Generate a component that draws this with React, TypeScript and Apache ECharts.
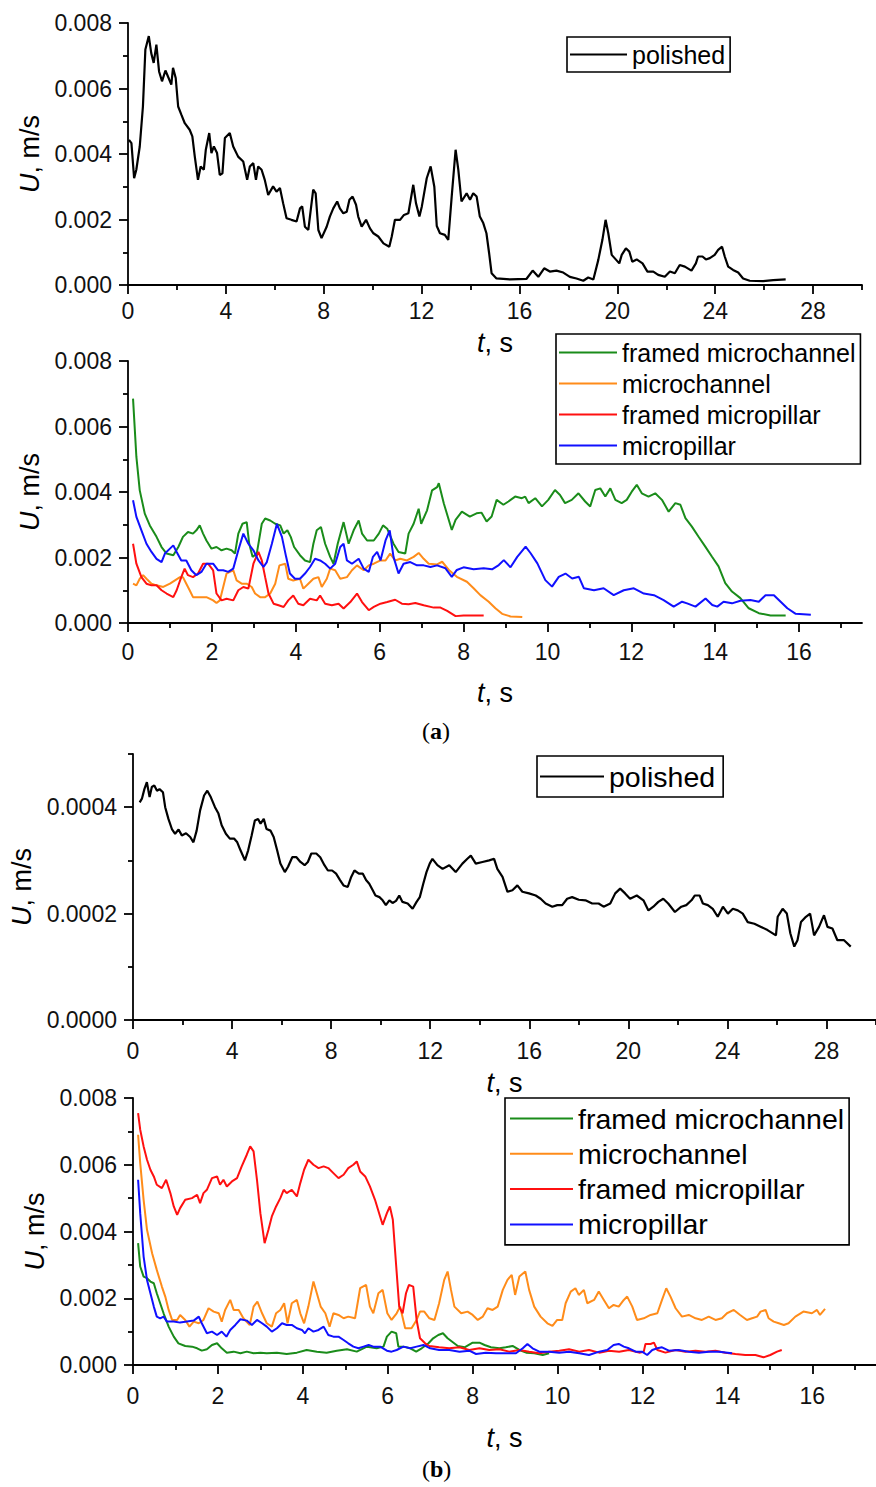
import React, { useEffect, useRef } from 'react';
import * as echarts from 'echarts';

const FONT = "'Liberation Sans', Arial, Helvetica, sans-serif";
const SERIF = "'Liberation Serif', 'Times New Roman', serif";

// ---------- tick values ----------
const xTicksWide = [0, 4, 8, 12, 16, 20, 24, 28];
const xMinorWide = [2, 6, 10, 14, 18, 22, 26, 30];
const xTicksNarrow = [0, 2, 4, 6, 8, 10, 12, 14, 16];
const xMinorNarrow = [1, 3, 5, 7, 9, 11, 13, 15, 17];
const yTicksBig = [0, 0.002, 0.004, 0.006, 0.008];
const yMinorBig = [0.001, 0.003, 0.005, 0.007];
const yTicksSmall = [0, 0.0002, 0.0004];
const yMinorSmall = [0.0001, 0.0003, 0.0005];

// ---------- data: [t (s), U (10^-3 m/s)] ----------
// (a) top: polished
const aPolished = [[0.04,4.43],[0.14,4.33],[0.25,3.26],[0.34,3.52],[0.48,4.23],[0.61,5.45],[0.71,7.19],[0.85,7.6],[0.95,7.08],[1.05,6.78],[1.16,7.34],[1.27,6.52],[1.39,6.22],[1.53,6.55],[1.66,6.32],[1.77,6.12],[1.84,6.63],[1.95,6.32],[2.05,5.45],[2.18,5.2],[2.32,4.94],[2.52,4.74],[2.63,4.54],[2.73,3.92],[2.86,3.21],[2.97,3.62],[3.1,3.52],[3.18,4.13],[3.32,4.64],[3.41,4.03],[3.51,4.23],[3.64,4.03],[3.75,3.36],[3.86,3.41],[3.96,4.49],[4.16,4.64],[4.3,4.23],[4.5,3.92],[4.71,3.77],[4.87,3.21],[4.98,3.62],[5.12,3.72],[5.23,3.21],[5.32,3.62],[5.46,3.52],[5.59,3.21],[5.73,2.75],[5.93,3.01],[6.07,2.85],[6.21,2.96],[6.34,2.5],[6.48,2.04],[6.68,1.99],[6.89,1.94],[7.03,2.34],[7.12,2.4],[7.23,1.78],[7.37,1.68],[7.57,2.91],[7.67,2.8],[7.78,1.68],[7.91,1.43],[8.12,1.78],[8.25,2.09],[8.39,2.34],[8.55,2.55],[8.66,2.34],[8.8,2.19],[8.94,2.24],[9.05,2.6],[9.18,2.7],[9.32,2.45],[9.41,2.09],[9.55,1.78],[9.73,1.99],[9.89,1.73],[10.03,1.58],[10.23,1.48],[10.44,1.27],[10.68,1.17],[10.78,1.48],[10.91,1.99],[11.12,1.99],[11.28,2.14],[11.46,2.19],[11.66,3.06],[11.77,2.5],[11.91,2.09],[12.01,2.4],[12.21,3.26],[12.37,3.62],[12.52,3.0],[12.62,1.8],[12.75,1.58],[12.95,1.53],[13.09,1.38],[13.23,2.7],[13.39,4.13],[13.5,3.52],[13.63,2.55],[13.84,2.8],[13.98,2.6],[14.11,2.8],[14.25,2.7],[14.38,2.09],[14.52,1.89],[14.65,1.58],[14.76,0.97],[14.86,0.36],[15.06,0.2],[15.61,0.17],[16.29,0.19],[16.54,0.44],[16.77,0.25],[17.01,0.51],[17.24,0.41],[17.51,0.44],[17.79,0.38],[18.06,0.25],[18.33,0.2],[18.61,0.13],[18.81,0.23],[19.02,0.17],[19.22,0.76],[19.39,1.38],[19.52,1.99],[19.63,1.58],[19.77,0.92],[20.08,0.66],[20.18,0.92],[20.35,1.12],[20.49,1.02],[20.61,0.71],[20.79,0.78],[21.03,0.66],[21.23,0.41],[21.47,0.41],[21.67,0.31],[21.94,0.25],[22.15,0.41],[22.35,0.36],[22.55,0.61],[22.76,0.56],[23.03,0.44],[23.21,0.66],[23.3,0.87],[23.48,0.87],[23.62,0.78],[23.78,0.82],[23.98,0.92],[24.12,1.07],[24.28,1.17],[24.39,0.87],[24.53,0.56],[24.73,0.46],[24.94,0.38],[25.14,0.2],[25.41,0.13],[25.96,0.12],[26.37,0.15],[26.88,0.17]];

// (a) bottom
const aFramedChannel = [[0.12,6.85],[0.2,5.07],[0.28,4.05],[0.4,3.34],[0.52,2.98],[0.68,2.63],[0.8,2.32],[0.92,2.12],[1.08,2.07],[1.2,2.32],[1.31,2.63],[1.43,2.78],[1.55,2.73],[1.63,2.83],[1.71,2.98],[1.79,2.73],[1.87,2.52],[1.99,2.27],[2.11,2.32],[2.23,2.22],[2.35,2.27],[2.47,2.22],[2.55,2.12],[2.63,2.73],[2.73,3.03],[2.83,3.08],[2.89,2.42],[2.97,2.02],[3.07,2.12],[3.19,3.03],[3.27,3.19],[3.39,3.13],[3.51,3.03],[3.63,2.98],[3.71,2.73],[3.8,2.83],[3.88,2.63],[3.96,2.32],[4.1,2.07],[4.22,1.91],[4.34,1.86],[4.42,2.42],[4.5,2.83],[4.6,2.93],[4.7,2.42],[4.82,2.02],[4.9,1.81],[5.0,2.42],[5.14,3.08],[5.26,2.42],[5.38,2.83],[5.5,3.13],[5.58,2.73],[5.7,2.52],[5.86,2.52],[5.98,2.73],[6.08,2.98],[6.18,2.88],[6.33,2.42],[6.45,2.17],[6.61,2.12],[6.69,2.73],[6.81,3.03],[6.93,3.49],[6.99,3.03],[7.13,3.44],[7.25,4.05],[7.37,4.15],[7.41,4.27],[7.53,3.65],[7.72,2.84],[7.81,3.15],[7.96,3.4],[8.15,3.25],[8.31,3.35],[8.43,3.37],[8.55,3.1],[8.67,3.25],[8.79,3.76],[8.95,3.61],[9.07,3.71],[9.23,3.86],[9.39,3.81],[9.47,3.86],[9.55,3.66],[9.71,3.81],[9.87,3.56],[10.02,3.76],[10.18,4.06],[10.3,3.91],[10.42,3.66],[10.58,3.76],[10.74,3.96],[10.9,3.71],[11.02,3.56],[11.14,4.06],[11.26,4.11],[11.38,3.86],[11.5,4.11],[11.62,3.76],[11.77,3.66],[11.89,3.76],[12.01,4.01],[12.13,4.22],[12.25,3.96],[12.41,3.86],[12.57,3.96],[12.73,3.76],[12.89,3.4],[13.05,3.66],[13.17,3.61],[13.29,3.2],[13.44,2.95],[13.6,2.64],[13.76,2.34],[13.92,2.03],[14.08,1.73],[14.24,1.22],[14.4,0.96],[14.6,0.76],[14.8,0.45],[15.04,0.3],[15.32,0.23],[15.68,0.23]];
const aChannel = [[0.12,1.2],[0.2,1.15],[0.28,1.35],[0.36,1.46],[0.44,1.35],[0.56,1.2],[0.68,1.15],[0.84,1.1],[1.0,1.2],[1.12,1.3],[1.24,1.4],[1.31,1.4],[1.39,1.2],[1.47,1.0],[1.55,0.79],[1.71,0.79],[1.87,0.79],[2.03,0.69],[2.11,0.61],[2.19,0.69],[2.27,1.1],[2.35,1.51],[2.43,1.56],[2.51,1.61],[2.59,1.3],[2.71,1.2],[2.83,1.2],[2.95,1.1],[3.03,0.9],[3.15,0.79],[3.27,0.79],[3.39,0.9],[3.51,1.2],[3.61,1.76],[3.75,1.81],[3.82,1.35],[3.94,1.3],[4.1,1.35],[4.18,1.05],[4.3,1.2],[4.42,1.35],[4.54,1.4],[4.62,1.1],[4.74,1.35],[4.82,1.66],[4.94,1.61],[5.06,1.35],[5.22,1.4],[5.34,1.61],[5.46,1.76],[5.62,1.61],[5.74,1.76],[5.86,1.81],[6.02,1.91],[6.14,1.91],[6.25,2.12],[6.37,1.91],[6.49,1.96],[6.65,1.91],[6.81,2.02],[6.93,2.14],[7.05,1.96],[7.17,1.81],[7.37,1.79],[7.49,1.87],[7.65,1.62],[7.84,1.41],[8.08,1.26],[8.24,1.06],[8.4,0.85],[8.6,0.65],[8.76,0.45],[8.92,0.28],[9.12,0.2],[9.4,0.18]];
const aFramedPillar = [[0.12,2.42],[0.2,1.81],[0.32,1.4],[0.44,1.2],[0.56,1.15],[0.68,1.15],[0.8,1.0],[0.92,0.9],[1.08,0.79],[1.16,1.0],[1.27,1.4],[1.35,1.66],[1.43,1.46],[1.55,1.4],[1.67,1.51],[1.79,1.81],[1.91,1.81],[2.03,1.61],[2.11,0.9],[2.23,0.69],[2.35,0.74],[2.51,0.69],[2.63,1.0],[2.75,1.1],[2.87,1.05],[2.99,1.81],[3.11,2.17],[3.19,1.91],[3.27,1.4],[3.35,0.9],[3.47,0.59],[3.59,0.54],[3.71,0.49],[3.82,0.69],[3.94,0.84],[4.06,0.59],[4.18,0.54],[4.34,0.74],[4.5,0.69],[4.58,0.84],[4.7,0.59],[4.86,0.54],[5.02,0.59],[5.14,0.44],[5.3,0.64],[5.46,0.9],[5.58,0.64],[5.74,0.39],[5.86,0.49],[6.02,0.59],[6.18,0.64],[6.37,0.71],[6.53,0.59],[6.69,0.57],[6.85,0.61],[7.05,0.54],[7.29,0.47],[7.45,0.47],[7.61,0.37],[7.81,0.21],[8.0,0.23],[8.2,0.23],[8.48,0.23]];
const aPillar = [[0.12,3.75],[0.2,3.24],[0.32,2.83],[0.44,2.42],[0.56,2.17],[0.68,1.96],[0.8,1.86],[0.88,2.12],[1.0,2.27],[1.08,2.37],[1.16,2.17],[1.27,1.91],[1.39,1.91],[1.51,1.61],[1.63,1.46],[1.75,1.56],[1.87,1.81],[2.03,1.81],[2.15,1.61],[2.27,1.61],[2.39,1.56],[2.51,1.66],[2.63,2.22],[2.75,2.73],[2.87,2.42],[2.99,2.22],[3.11,1.91],[3.23,1.71],[3.31,1.86],[3.43,2.42],[3.55,3.03],[3.67,2.63],[3.77,2.02],[3.86,1.51],[3.98,1.35],[4.1,1.35],[4.22,1.51],[4.34,1.71],[4.46,1.96],[4.58,1.91],[4.7,1.81],[4.82,1.66],[4.94,1.81],[5.06,2.32],[5.14,2.42],[5.22,1.91],[5.34,1.81],[5.5,1.96],[5.62,1.66],[5.74,1.56],[5.84,2.02],[5.94,2.17],[6.02,1.91],[6.14,2.52],[6.24,2.83],[6.33,2.02],[6.45,1.51],[6.57,1.81],[6.73,1.86],[6.89,1.76],[7.05,1.76],[7.21,1.71],[7.37,1.76],[7.57,1.67],[7.72,1.41],[7.84,1.62],[8.0,1.7],[8.24,1.64],[8.48,1.67],[8.68,1.64],[8.84,1.77],[8.96,1.92],[9.12,1.7],[9.28,2.02],[9.48,2.33],[9.6,2.13],[9.76,1.82],[9.95,1.31],[10.11,1.11],[10.27,1.41],[10.43,1.51],[10.59,1.36],[10.75,1.41],[10.87,1.06],[11.11,1.0],[11.34,1.06],[11.58,0.85],[11.82,1.0],[12.06,1.06],[12.3,0.9],[12.54,0.85],[12.77,0.7],[13.01,0.5],[13.21,0.65],[13.33,0.6],[13.53,0.5],[13.77,0.75],[13.93,0.55],[14.05,0.5],[14.2,0.65],[14.4,0.6],[14.6,0.68],[14.84,0.7],[15.04,0.65],[15.2,0.85],[15.4,0.85],[15.56,0.65],[15.72,0.45],[15.92,0.28],[16.28,0.25]];

// (b) top: polished [t (s), U (10^-4 m/s)]
const bPolished = [[0.27,4.09],[0.36,4.16],[0.46,4.34],[0.56,4.47],[0.67,4.19],[0.76,4.38],[0.86,4.41],[0.97,4.31],[1.07,4.34],[1.21,4.28],[1.3,4.0],[1.43,3.78],[1.57,3.59],[1.7,3.5],[1.84,3.58],[1.97,3.47],[2.14,3.51],[2.31,3.44],[2.44,3.34],[2.57,3.56],[2.71,3.94],[2.87,4.22],[3.0,4.31],[3.14,4.19],[3.31,4.0],[3.45,3.88],[3.58,3.66],[3.75,3.5],[3.91,3.41],[4.08,3.41],[4.21,3.34],[4.34,3.19],[4.52,3.0],[4.65,3.19],[4.79,3.47],[4.92,3.75],[5.05,3.78],[5.15,3.69],[5.28,3.78],[5.39,3.59],[5.55,3.56],[5.68,3.44],[5.82,3.19],[5.95,2.94],[6.13,2.78],[6.26,2.88],[6.43,3.06],[6.6,3.06],[6.76,2.97],[6.93,2.91],[7.06,2.97],[7.2,3.13],[7.4,3.13],[7.56,3.06],[7.73,2.91],[7.87,2.81],[8.04,2.81],[8.2,2.75],[8.36,2.63],[8.5,2.53],[8.67,2.5],[8.81,2.69],[8.94,2.81],[9.12,2.75],[9.28,2.75],[9.41,2.63],[9.54,2.56],[9.68,2.44],[9.79,2.34],[9.95,2.31],[10.08,2.25],[10.21,2.16],[10.35,2.25],[10.48,2.2],[10.62,2.24],[10.75,2.34],[10.88,2.22],[11.09,2.19],[11.29,2.09],[11.45,2.22],[11.58,2.31],[11.72,2.56],[11.85,2.78],[11.98,2.94],[12.09,3.03],[12.29,2.91],[12.5,2.84],[12.77,2.91],[13.03,2.78],[13.3,2.94],[13.5,3.03],[13.64,3.09],[13.84,2.94],[14.11,2.97],[14.38,3.0],[14.58,3.03],[14.71,2.84],[14.92,2.69],[15.12,2.41],[15.32,2.44],[15.52,2.53],[15.72,2.41],[15.99,2.38],[16.26,2.34],[16.46,2.28],[16.66,2.19],[16.93,2.13],[17.13,2.16],[17.33,2.16],[17.53,2.28],[17.73,2.31],[18.0,2.26],[18.27,2.25],[18.54,2.19],[18.8,2.19],[19.0,2.13],[19.27,2.19],[19.47,2.38],[19.67,2.47],[19.87,2.38],[20.07,2.28],[20.34,2.34],[20.61,2.25],[20.81,2.06],[21.01,2.13],[21.21,2.22],[21.41,2.28],[21.61,2.19],[21.88,2.03],[22.14,2.13],[22.34,2.16],[22.55,2.25],[22.68,2.34],[22.88,2.34],[23.01,2.19],[23.21,2.16],[23.41,2.09],[23.61,1.94],[23.82,2.13],[24.02,2.0],[24.22,2.09],[24.42,2.06],[24.62,2.0],[24.82,1.84],[25.09,1.81],[25.36,1.75],[25.62,1.69],[25.96,1.59],[26.03,1.94],[26.23,2.09],[26.4,2.0],[26.54,1.63],[26.7,1.38],[26.83,1.5],[26.97,1.84],[27.17,1.94],[27.34,2.0],[27.5,1.59],[27.7,1.75],[27.9,1.97],[28.04,1.75],[28.24,1.72],[28.44,1.5],[28.71,1.5],[28.98,1.38]];

// (b) bottom [t (s), U (10^-3 m/s)]
const bFramedChannel = [[0.12,3.65],[0.17,2.95],[0.25,2.65],[0.33,2.6],[0.41,2.5],[0.49,2.45],[0.56,2.15],[0.64,1.85],[0.72,1.55],[0.84,1.15],[0.96,0.85],[1.07,0.65],[1.23,0.57],[1.39,0.55],[1.51,0.5],[1.62,0.43],[1.74,0.47],[1.86,0.6],[1.98,0.65],[2.09,0.5],[2.21,0.37],[2.37,0.4],[2.53,0.35],[2.68,0.4],[2.84,0.35],[3.0,0.37],[3.15,0.35],[3.39,0.37],[3.62,0.33],[3.86,0.37],[4.09,0.45],[4.33,0.4],[4.56,0.37],[4.8,0.43],[5.04,0.47],[5.27,0.4],[5.51,0.55],[5.74,0.5],[5.9,0.55],[5.98,0.85],[6.09,1.0],[6.2,0.95],[6.25,0.55],[6.37,0.55],[6.53,0.5],[6.67,0.4],[6.8,0.5],[6.96,0.65],[7.07,0.8],[7.19,0.9],[7.3,0.95],[7.41,0.8],[7.65,0.57],[7.81,0.53],[8.0,0.67],[8.16,0.67],[8.28,0.6],[8.43,0.53],[8.63,0.5],[8.78,0.53],[8.94,0.57],[9.1,0.45],[9.26,0.37],[9.45,0.35],[9.65,0.3],[9.8,0.35]];
const bChannel = [[0.12,6.9],[0.17,6.05],[0.25,4.95],[0.33,4.05],[0.45,3.35],[0.56,2.85],[0.68,2.35],[0.76,2.05],[0.84,1.65],[0.92,1.35],[1.04,1.35],[1.11,1.5],[1.23,1.35],[1.33,1.15],[1.43,1.3],[1.55,1.25],[1.66,1.35],[1.78,1.7],[1.9,1.6],[2.02,1.55],[2.09,1.3],[2.17,1.65],[2.29,1.95],[2.37,1.65],[2.49,1.65],[2.6,1.4],[2.75,1.2],[2.84,1.75],[2.93,1.9],[3.04,1.55],[3.15,1.25],[3.27,1.15],[3.37,1.55],[3.47,1.65],[3.56,1.85],[3.64,1.25],[3.74,1.85],[3.86,1.95],[3.94,1.55],[4.03,1.25],[4.13,1.75],[4.25,2.5],[4.33,2.15],[4.42,1.75],[4.53,1.55],[4.63,1.15],[4.72,1.55],[4.84,1.5],[4.96,1.4],[5.07,1.45],[5.23,1.4],[5.35,2.3],[5.49,2.4],[5.58,1.75],[5.66,1.55],[5.78,2.15],[5.88,2.25],[5.99,1.55],[6.09,1.35],[6.21,1.55],[6.29,1.75],[6.41,1.1],[6.56,1.1],[6.68,1.35],[6.76,1.6],[6.86,1.6],[6.98,1.4],[7.1,1.35],[7.21,1.85],[7.33,2.55],[7.41,2.8],[7.49,2.25],[7.57,1.75],[7.73,1.55],[7.88,1.6],[8.0,1.5],[8.12,1.35],[8.24,1.45],[8.35,1.7],[8.47,1.65],[8.59,1.75],[8.71,2.25],[8.82,2.55],[8.92,2.7],[9.0,2.1],[9.1,2.65],[9.24,2.8],[9.33,2.25],[9.45,1.75],[9.6,1.45],[9.76,1.25],[9.88,1.17],[9.99,1.35],[10.11,1.35],[10.19,1.85],[10.31,2.2],[10.42,2.3],[10.5,2.1],[10.62,2.25],[10.7,1.85],[10.86,1.95],[10.97,2.2],[11.09,1.95],[11.21,1.7],[11.32,1.8],[11.44,1.75],[11.56,1.95],[11.64,2.05],[11.76,1.75],[11.87,1.35],[12.03,1.4],[12.19,1.5],[12.35,1.55],[12.46,1.95],[12.56,2.3],[12.66,2.05],[12.78,1.7],[12.93,1.45],[13.09,1.5],[13.25,1.4],[13.4,1.35],[13.56,1.45],[13.72,1.35],[13.87,1.4],[13.99,1.55],[14.15,1.65],[14.3,1.5],[14.46,1.35],[14.58,1.4],[14.7,1.45],[14.78,1.6],[14.9,1.65],[14.97,1.4],[15.09,1.3],[15.21,1.25],[15.33,1.2],[15.44,1.25],[15.6,1.45],[15.79,1.6],[15.99,1.55],[16.11,1.65],[16.18,1.5],[16.3,1.68]];
const bFramedPillar = [[0.12,7.55],[0.17,7.05],[0.25,6.55],[0.33,6.15],[0.41,5.85],[0.49,5.65],[0.56,5.4],[0.68,5.3],[0.78,5.55],[0.88,5.15],[0.96,4.75],[1.04,4.5],[1.11,4.7],[1.23,4.95],[1.39,5.0],[1.51,5.1],[1.58,4.85],[1.66,5.15],[1.74,5.25],[1.86,5.6],[1.98,5.65],[2.05,5.4],[2.13,5.55],[2.21,5.35],[2.33,5.5],[2.45,5.6],[2.56,5.95],[2.68,6.3],[2.76,6.55],[2.84,6.4],[2.92,5.55],[3.0,4.55],[3.1,3.65],[3.19,4.05],[3.27,4.45],[3.37,4.75],[3.47,5.0],[3.55,5.25],[3.62,5.15],[3.74,5.25],[3.86,5.05],[3.94,5.45],[4.03,5.85],[4.13,6.15],[4.25,6.0],[4.37,5.9],[4.49,5.95],[4.6,5.9],[4.72,5.75],[4.84,5.6],[4.96,5.7],[5.07,5.9],[5.19,6.0],[5.27,6.1],[5.35,5.8],[5.47,5.65],[5.58,5.35],[5.7,4.95],[5.82,4.45],[5.88,4.2],[5.98,4.55],[6.05,4.75],[6.12,4.35],[6.2,2.95],[6.27,1.75],[6.35,1.55],[6.43,2.15],[6.5,2.4],[6.6,2.35],[6.68,1.35],[6.76,0.8],[6.88,0.65],[6.98,0.57],[7.21,0.53],[7.45,0.5],[7.69,0.53],[7.92,0.45],[8.16,0.5],[8.39,0.45],[8.63,0.47],[8.86,0.4],[9.1,0.45],[9.33,0.4],[9.57,0.35],[9.8,0.4],[10.04,0.43],[10.27,0.47],[10.51,0.4],[10.74,0.45],[10.98,0.37],[11.21,0.43],[11.45,0.4],[11.68,0.45],[11.92,0.37],[12.03,0.4],[12.07,0.63],[12.19,0.63],[12.27,0.67],[12.35,0.45],[12.54,0.37],[12.78,0.45],[13.01,0.4],[13.25,0.43],[13.48,0.4],[13.72,0.43],[13.95,0.37],[14.19,0.33],[14.42,0.3],[14.66,0.3],[14.85,0.23],[15.01,0.3],[15.17,0.4],[15.28,0.45]];
const bPillar = [[0.12,5.55],[0.17,4.55],[0.25,3.25],[0.33,2.55],[0.41,2.15],[0.49,1.75],[0.56,1.45],[0.64,1.4],[0.72,1.45],[0.8,1.3],[0.96,1.3],[1.11,1.27],[1.27,1.3],[1.43,1.33],[1.55,1.45],[1.62,1.25],[1.74,0.95],[1.86,1.0],[1.98,0.9],[2.09,1.0],[2.2,0.85],[2.29,1.05],[2.41,1.2],[2.53,1.37],[2.68,1.33],[2.8,1.2],[2.92,1.35],[3.04,1.25],[3.15,1.15],[3.27,1.0],[3.39,1.1],[3.51,1.25],[3.62,1.2],[3.74,1.2],[3.86,1.1],[3.98,1.05],[4.05,0.95],[4.13,1.1],[4.25,1.0],[4.37,1.05],[4.49,1.15],[4.6,0.9],[4.72,0.85],[4.84,0.85],[4.96,0.75],[5.07,0.65],[5.19,0.55],[5.31,0.5],[5.43,0.55],[5.55,0.6],[5.66,0.55],[5.82,0.55],[5.98,0.43],[6.09,0.4],[6.21,0.45],[6.37,0.55],[6.53,0.5],[6.68,0.55],[6.84,0.6],[7.0,0.5],[7.21,0.45],[7.45,0.45],[7.69,0.4],[7.92,0.43],[8.08,0.33],[8.31,0.37],[8.55,0.35],[8.78,0.35],[9.02,0.35],[9.18,0.5],[9.29,0.63],[9.41,0.5],[9.57,0.4],[9.8,0.4],[10.04,0.37],[10.27,0.4],[10.51,0.35],[10.74,0.3],[10.98,0.4],[11.17,0.45],[11.32,0.6],[11.44,0.63],[11.56,0.55],[11.68,0.5],[11.84,0.4],[11.99,0.4],[12.11,0.3],[12.23,0.45],[12.35,0.5],[12.46,0.53],[12.62,0.43],[12.85,0.45],[13.09,0.4],[13.33,0.37],[13.56,0.4],[13.8,0.4],[14.11,0.35]];

const GREEN = '#1a8c1a';
const ORANGE = '#ff8c1a';
const RED = '#ff1010';
const BLUE = '#1010ff';

const toMs = (arr: number[][], f: number) => arr.map(([t, u]) => [t, u * f]);

export default function App() {
  const ref = useRef<HTMLDivElement>(null);

  useEffect(() => {
    document.body.style.margin = '0';
    if (!ref.current) return;
    const chart = echarts.init(ref.current, undefined, { renderer: 'svg' });

    const grids = [
      { left: 128, top: 23, width: 734, height: 262 },
      { left: 128, top: 361, width: 734, height: 262 },
      { left: 133, top: 754, width: 744, height: 266 },
      { left: 133, top: 1098, width: 745, height: 267 },
    ];
    const xCfg = [
      { max: 30, ticks: xTicksWide, minor: xMinorWide, margin: 14, nameGap: 44 },
      { max: 17.5, ticks: xTicksNarrow, minor: xMinorNarrow, margin: 17, nameGap: 56 },
      { max: 30, ticks: xTicksWide, minor: xMinorWide, margin: 19, nameGap: 49 },
      { max: 17.5, ticks: xTicksNarrow, minor: xMinorNarrow, margin: 19, nameGap: 59 },
    ];
    const yCfg = [
      { max: 0.008, ticks: yTicksBig, minor: yMinorBig, dec: 3, nameGap: 84 },
      { max: 0.008, ticks: yTicksBig, minor: yMinorBig, dec: 3, nameGap: 84 },
      { max: 0.0005, ticks: yTicksSmall, minor: yMinorSmall, dec: 4, nameGap: 98 },
      { max: 0.008, ticks: yTicksBig, minor: yMinorBig, dec: 3, nameGap: 82 },
    ];
    const axisLine = { show: true, onZero: false, lineStyle: { color: '#000', width: 1.8 } };
    const nameStyle = {
      fontFamily: FONT, fontSize: 27, color: '#000',
      rich: { i: { fontFamily: FONT, fontSize: 27, fontStyle: 'italic', color: '#000' } },
    };

    const xAxis: any[] = [];
    const yAxis: any[] = [];
    xCfg.forEach((c, i) => {
      xAxis.push({
        type: 'value', gridIndex: i, min: 0, max: c.max, position: 'bottom',
        axisLine, splitLine: { show: false },
        axisTick: { show: true, length: 9, customValues: c.ticks, lineStyle: { color: '#000', width: 1.8 } },
        axisLabel: { customValues: c.ticks, margin: c.margin, fontFamily: FONT, fontSize: 23, color: '#111', formatter: (v: number) => String(v) },
        name: '{i|t}, s', nameLocation: 'middle', nameGap: c.nameGap, nameTextStyle: nameStyle,
      });
    });
    xCfg.forEach((c, i) => {
      xAxis.push({
        type: 'value', gridIndex: i, min: 0, max: c.max, position: 'bottom',
        axisLine: { show: false, onZero: false }, splitLine: { show: false }, axisLabel: { show: false },
        axisTick: { show: true, length: 5, customValues: c.minor, lineStyle: { color: '#000', width: 1.8 } },
      });
    });
    yCfg.forEach((c, i) => {
      yAxis.push({
        type: 'value', gridIndex: i, min: 0, max: c.max, position: 'left',
        axisLine, splitLine: { show: false },
        axisTick: { show: true, length: 9, customValues: c.ticks, lineStyle: { color: '#000', width: 1.8 } },
        axisLabel: { customValues: c.ticks, margin: 16, fontFamily: FONT, fontSize: 23, color: '#111', formatter: (v: number) => v.toFixed(c.dec) },
        name: '{i|U}, m/s', nameLocation: 'middle', nameGap: c.nameGap, nameRotate: 90, nameTextStyle: nameStyle,
      });
    });
    yCfg.forEach((c, i) => {
      yAxis.push({
        type: 'value', gridIndex: i, min: 0, max: c.max, position: 'left',
        axisLine: { show: false, onZero: false }, splitLine: { show: false }, axisLabel: { show: false },
        axisTick: { show: true, length: 5, customValues: c.minor, lineStyle: { color: '#000', width: 1.8 } },
      });
    });

    const line = (name: string, data: number[][], color: string, gi: number, width = 2) => ({
      type: 'line', name, data, xAxisIndex: gi, yAxisIndex: gi,
      symbol: 'none', showSymbol: false, color,
      lineStyle: { color, width }, silent: true,
    });

    const series = [
      line('polished', toMs(aPolished, 1e-3), '#000', 0, 2.2),
      line('framed microchannel', toMs(aFramedChannel, 1e-3), GREEN, 1),
      line('microchannel', toMs(aChannel, 1e-3), ORANGE, 1),
      line('framed micropillar', toMs(aFramedPillar, 1e-3), RED, 1),
      line('micropillar', toMs(aPillar, 1e-3), BLUE, 1),
      line('polished', toMs(bPolished, 1e-4), '#000', 2, 2.2),
      line('framed microchannel', toMs(bFramedChannel, 1e-3), GREEN, 3),
      line('microchannel', toMs(bChannel, 1e-3), ORANGE, 3),
      line('framed micropillar', toMs(bFramedPillar, 1e-3), RED, 3),
      line('micropillar', toMs(bPillar, 1e-3), BLUE, 3),
    ];

    const names4 = ['framed microchannel', 'microchannel', 'framed micropillar', 'micropillar'];
    const legendBase = (left: number, top: number, data: string[], fs: number, iw: number, padding: number[], gap: number) => ({
      show: true, orient: 'vertical', left, top, data, icon: 'rect', itemWidth: iw, itemHeight: 2,
      itemGap: gap, padding, borderColor: '#000', borderWidth: 1.6, selectedMode: false,
      textStyle: { fontFamily: FONT, fontSize: fs, color: '#000' },
    });

    const panelTag = (letter: string, top: number) => ({
      type: 'text', left: 422, top,
      style: {
        text: '({b|' + letter + '})', font: '24px ' + SERIF, fill: '#000',
        rich: { b: { fontFamily: SERIF, fontSize: 24, fontWeight: 'bold', fill: '#000' } },
      },
    });

    chart.setOption({
      animation: false,
      backgroundColor: '#fff',
      grid: grids.map((g) => ({ ...g, containLabel: false })),
      xAxis, yAxis, series,
      legend: [
        legendBase(567, 37, ['polished'], 25, 57, [5, 5, 5, 3], 6),
        legendBase(556, 334, names4, 25, 58, [6, 5, 6, 3], 6),
        legendBase(537, 756, ['polished'], 28.5, 64, [6, 8, 6, 3], 6),
        legendBase(505, 1098, names4, 28.5, 63, [6, 5, 6, 5], 6.3),
      ],
      graphic: [panelTag('a', 719), panelTag('b', 1457)],
    });

    return () => chart.dispose();
  }, []);

  return <div ref={ref} style={{ width: 876, height: 1487 }} />;
}
